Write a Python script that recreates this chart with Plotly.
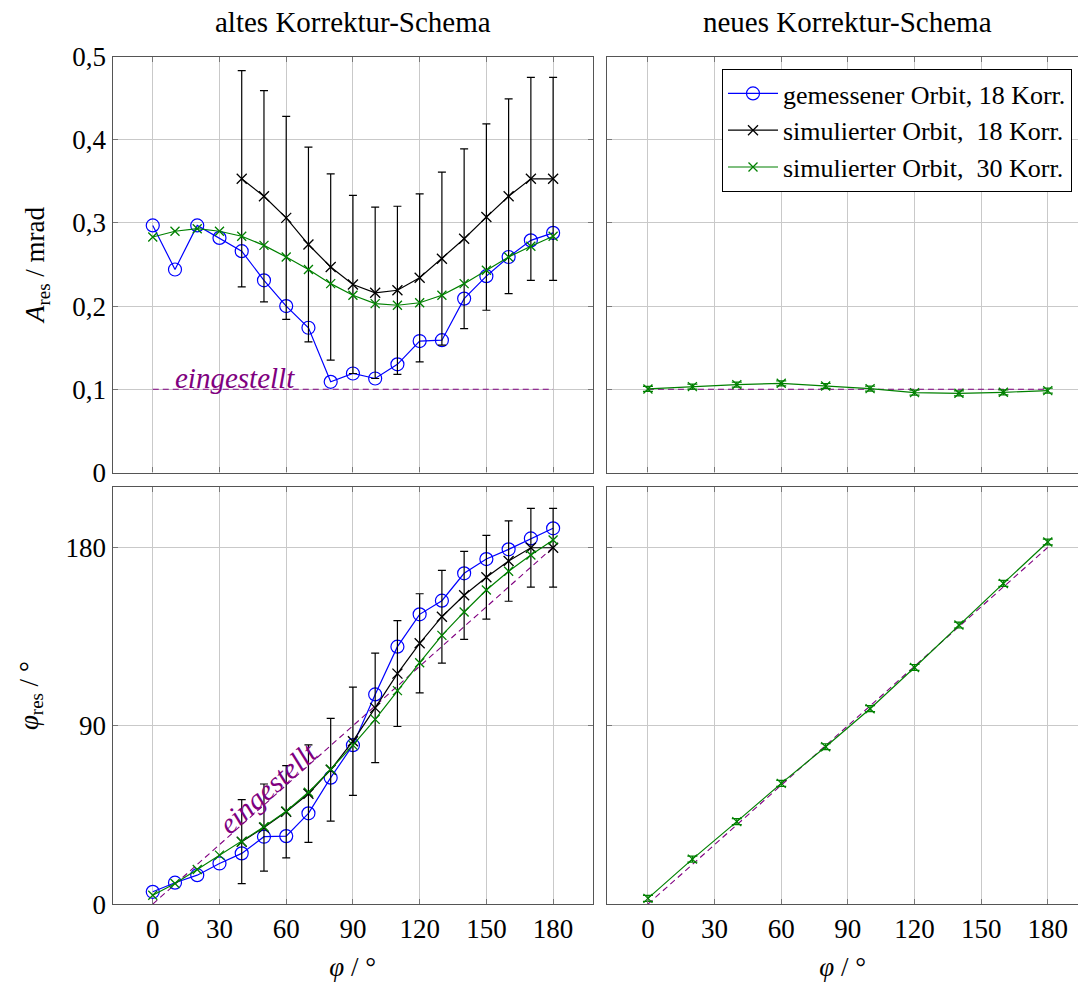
import plotly.graph_objects as go

# ---------------- data ----------------
phi_full = [0, 10, 20, 30, 40, 50, 60, 70, 80, 90, 100, 110, 120, 130, 140, 150, 160, 170, 180]
phi_sim18 = [40, 50, 60, 70, 80, 90, 100, 110, 120, 130, 140, 150, 160, 170, 180]
phi_new = [0, 20, 40, 60, 80, 100, 120, 140, 160, 180]

# residual amplitude, old scheme (mrad)
amp_meas18 = [0.297, 0.244, 0.297, 0.282, 0.266, 0.231, 0.200, 0.174, 0.109, 0.119,
              0.113, 0.130, 0.158, 0.159, 0.209, 0.236, 0.259, 0.279, 0.288]
amp_sim18 = [0.353, 0.332, 0.306, 0.274, 0.247, 0.226, 0.216, 0.219, 0.234, 0.257,
             0.281, 0.307, 0.332, 0.353, 0.353]
amp_sim18_err = [0.130, 0.127, 0.122, 0.117, 0.112, 0.107, 0.103, 0.101, 0.101, 0.104,
                 0.108, 0.112, 0.117, 0.122, 0.122]
amp_sim30 = [0.283, 0.290, 0.293, 0.290, 0.284, 0.273, 0.259, 0.244, 0.227, 0.213,
             0.203, 0.201, 0.204, 0.213, 0.227, 0.243, 0.259, 0.272, 0.284]

# residual phase, old scheme (deg)
ph_meas18 = [6.2, 10.8, 14.6, 20.5, 25.6, 34.0, 34.3, 45.8, 63.8, 80.2,
             105.8, 129.9, 146.2, 153.1, 166.9, 174.1, 179.0, 184.5, 189.6]
ph_sim18 = [31.5, 38.6, 46.6, 55.7, 67.8, 82.2, 99.0, 116.3, 131.6, 145.0,
            155.8, 164.9, 173.1, 179.8, 179.8]
ph_sim18_err = [21.2, 22.0, 23.3, 24.6, 25.9, 27.3, 27.6, 26.7, 25.0, 23.4,
                22.2, 21.1, 20.3, 19.9, 19.9]
ph_sim30 = [4.5, 10.4, 17.5, 24.7, 31.5, 39.0, 46.9, 56.4, 68.0, 80.2,
            93.2, 107.7, 121.8, 135.6, 147.4, 158.5, 167.9, 176.1, 183.7]

# new scheme, 30 correctors
amp_new30 = [0.1004, 0.1032, 0.1056, 0.1072, 0.1040, 0.1008, 0.0960, 0.0952, 0.0964, 0.0984]
amp_new30_err = [0.003] * 10
ph_new30 = [2.9, 22.7, 41.6, 60.9, 79.4, 98.6, 119.4, 140.8, 161.8, 182.7]
ph_new30_err = [1.5] * 10

# nominal setting
set_phi = [0, 180]
set_amp = [0.1, 0.1]
set_ph = [0, 180]

amp_ticks = [0, 0.1, 0.2, 0.3, 0.4, 0.5]
amp_ticktext = ["0", "0,1", "0,2", "0,3", "0,4", "0,5"]
ph_ticks = [0, 90, 180]
phi_ticks = [0, 30, 60, 90, 120, 150, 180]

names = ["gemessener Orbit, 18 Korr.",
         "simulierter Orbit,\u00a0 18 Korr.",
         "simulierter Orbit,\u00a0 30 Korr."]

# ---------------- styling ----------------
FONT = "Liberation Serif"
BLUE = "rgb(0,0,255)"
GREEN = "rgb(0,128,0)"
PURPLE = "rgb(128,0,128)"
GRID = "#c9c9c9"
FRAME = "#555555"
W, H = 1078, 985

fig = go.Figure()


def meas(x, y, xa, ya, show):
    fig.add_trace(go.Scatter(
        x=x, y=y, xaxis=xa, yaxis=ya, mode="lines+markers", name=names[0],
        legendgroup="m18", showlegend=show,
        line=dict(color=BLUE, width=1.2),
        marker=dict(symbol="circle-open", size=13, color=BLUE, line=dict(width=1.2))))


def sim(x, y, err, xa, ya, color, name, group, show, size, ew):
    fig.add_trace(go.Scatter(
        x=x, y=y, xaxis=xa, yaxis=ya, mode="lines+markers", name=name,
        legendgroup=group, showlegend=show,
        line=dict(color=color, width=1.2),
        marker=dict(symbol="x-thin-open", size=size, color=color, line=dict(width=1.3, color=color)),
        error_y=dict(type="data", array=err, visible=err is not None,
                     color=color, thickness=1.2, width=ew)))


def setline(x, y, xa, ya):
    fig.add_trace(go.Scatter(
        x=x, y=y, xaxis=xa, yaxis=ya, mode="lines", showlegend=False,
        line=dict(color=PURPLE, width=1.1, dash="6px,4px"), hoverinfo="skip"))


# top-left: amplitude, old scheme
setline(set_phi, set_amp, "x", "y")
meas(phi_full, amp_meas18, "x", "y", True)
sim(phi_sim18, amp_sim18, amp_sim18_err, "x", "y", "black", names[1], "s18", True, 10, 4)
sim(phi_full, amp_sim30, None, "x", "y", GREEN, names[2], "s30", True, 9, 4)

# top-right: amplitude, new scheme
setline(set_phi, set_amp, "x2", "y2")
sim(phi_new, amp_new30, amp_new30_err, "x2", "y2", GREEN, names[2], "s30", False, 9, 5)

# bottom-left: phase, old scheme
setline(set_phi, set_ph, "x3", "y3")
meas(phi_full, ph_meas18, "x3", "y3", False)
sim(phi_sim18, ph_sim18, ph_sim18_err, "x3", "y3", "black", names[1], "s18", False, 10, 4)
sim(phi_full, ph_sim30, None, "x3", "y3", GREEN, names[2], "s30", False, 9, 4)

# bottom-right: phase, new scheme
setline(set_phi, set_ph, "x4", "y4")
sim(phi_new, ph_new30, ph_new30_err, "x4", "y4", GREEN, names[2], "s30", False, 9, 5)

# ---------------- axes ----------------
XL = [112.5 / W, 592.7 / W]
XR = [607.3 / W, 1.0]
YT = [1 - 472.5 / H, 1 - 56.5 / H]
YB = [1 - 904.1 / H, 1 - 487.3 / H]
RANGE_L = [-18.1, 197.8]
RANGE_R = [-18.3, 193.6]
tickfont = dict(family=FONT, size=27, color="black")

common = dict(showgrid=True, gridcolor=GRID, gridwidth=1, zeroline=False,
              showline=True, linecolor=FRAME, linewidth=1.2,
              ticks="inside", ticklen=5, tickcolor="#777777", tickwidth=1,
              tickfont=tickfont, automargin=False)

xtitle = dict(text="<i>φ</i> / °", font=dict(family=FONT, size=27), standoff=14)

fig.update_layout(
    xaxis=dict(domain=XL, range=RANGE_L, anchor="y", tickvals=phi_ticks,
               showticklabels=False, mirror="allticks", **common),
    yaxis=dict(domain=YT, range=[0, 0.5], anchor="x", tickvals=amp_ticks,
               ticktext=amp_ticktext, mirror="allticks",
               title=dict(text="<i>A</i><sub>res</sub> / mrad",
                          font=dict(family=FONT, size=27), standoff=19),
               **common),
    xaxis2=dict(domain=XR, range=RANGE_R, anchor="y2", tickvals=phi_ticks,
                showticklabels=False, mirror="allticks", **common),
    yaxis2=dict(domain=YT, range=[0, 0.5], anchor="x2", tickvals=amp_ticks,
                showticklabels=False, mirror=False, **common),
    xaxis3=dict(domain=XL, range=RANGE_L, anchor="y3", tickvals=phi_ticks,
                mirror="allticks", title=xtitle, **common),
    yaxis3=dict(domain=YB, range=[0, 210.3], anchor="x3", tickvals=ph_ticks,
                mirror="allticks",
                title=dict(text="<i>φ</i><sub>res</sub> / °",
                           font=dict(family=FONT, size=27), standoff=19),
                **common),
    xaxis4=dict(domain=XR, range=RANGE_R, anchor="y4", tickvals=phi_ticks,
                mirror="allticks", title=xtitle, **common),
    yaxis4=dict(domain=YB, range=[0, 210.3], anchor="x4", tickvals=ph_ticks,
                showticklabels=False, mirror=False, **common),
)

fig.update_layout(
    width=W, height=H,
    margin=dict(l=0, r=0, t=0, b=0, autoexpand=False),
    paper_bgcolor="white", plot_bgcolor="white",
    font=dict(family=FONT, size=27, color="black"),
    legend=dict(x=1072 / W, y=1 - 69 / H, xanchor="right", yanchor="top",
                bgcolor="white", bordercolor="black", borderwidth=1,
                font=dict(family=FONT, size=26, color="black"),
                tracegroupgap=0, itemwidth=50),
    annotations=[
        dict(text="altes Korrektur-Schema", xref="paper", yref="paper",
             x=352.7 / W, y=1 - 22 / H, xanchor="center", yanchor="middle",
             showarrow=False, font=dict(family=FONT, size=29)),
        dict(text="neues Korrektur-Schema", xref="paper", yref="paper",
             x=847 / W, y=1 - 22 / H, xanchor="center", yanchor="middle",
             showarrow=False, font=dict(family=FONT, size=29)),
        dict(text="<i>eingestellt</i>", xref="x", yref="y", x=37, y=0.113,
             showarrow=False, font=dict(family=FONT, size=29, color=PURPLE)),
        dict(text="<i>eingestellt</i>", xref="x3", yref="y3", x=51.8, y=58.5,
             textangle=-41.7, showarrow=False,
             font=dict(family=FONT, size=29, color=PURPLE)),
    ],
)

fig.write_html("out.html")
